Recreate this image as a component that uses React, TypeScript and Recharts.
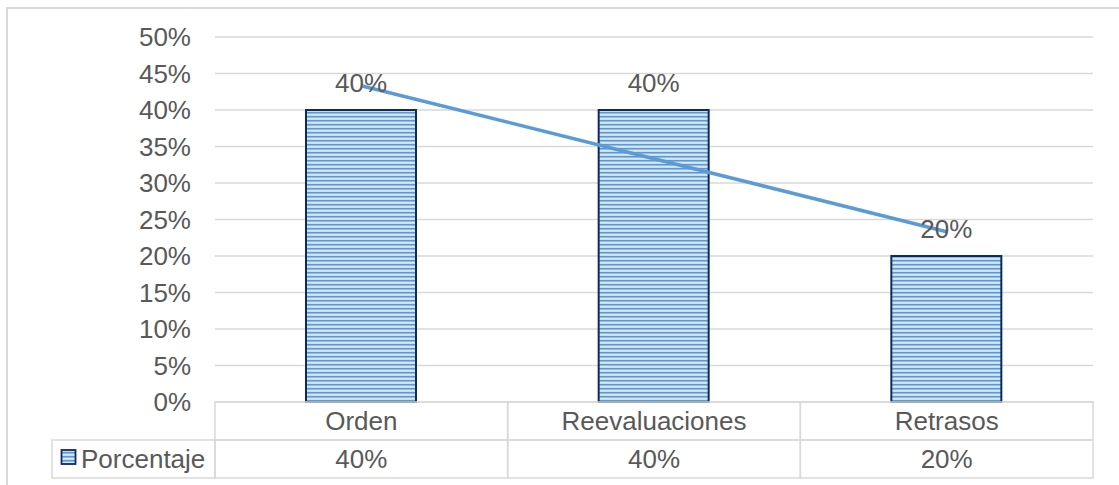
import React from 'react';
import { ComposedChart, Bar, Line, XAxis, YAxis, CartesianGrid, LabelList } from 'recharts';

const categories = ['Orden', 'Reevaluaciones', 'Retrasos'];
const porcentaje = [40, 40, 20];
const trendValues = [43.33, 33.33, 23.33];
const yTicks = [0, 5, 10, 15, 20, 25, 30, 35, 40, 45, 50];
const seriesName = 'Porcentaje';

const data = categories.map((name, i) => ({ name, value: porcentaje[i], trend: trendValues[i] }));

const CHART_W = 1119;
const CHART_H = 485;
const MARGIN = { top: 37, right: 26, left: 0, bottom: 7 };
const YAXIS_W = 215;
const XAXIS_H = 76;
const PLOT_W = CHART_W - MARGIN.left - MARGIN.right - YAXIS_W;
const FONT = '"Liberation Sans", Arial, sans-serif';
const TEXT = '#595959';
const GRID = '#D9D9D9';
const LEGEND_CELL_W = 163;
const FS = 26;

const StripeDefs = () => (
  <defs>
    <pattern id="hstripes" patternUnits="userSpaceOnUse" width="8" height="4">
      <rect x="0" y="0" width="8" height="4" fill="#BFD8F0" />
      <rect x="0" y="0" width="8" height="1.5" fill="#5B9BD5" />
      <rect x="0" y="2.3" width="8" height="0.9" fill="#E4EFFA" />
    </pattern>
  </defs>
);

const BarShape = (props: any) => {
  const { x, y, width, height } = props;
  return (
    <g>
      <StripeDefs />
      <rect x={x} y={y} width={width} height={height} fill="url(#hstripes)" stroke="#0F2A5E" strokeWidth={2} />
    </g>
  );
};

const TableTick = (props: any) => {
  const { x, y, payload, index } = props;
  const cw = PLOT_W / categories.length;
  const rowH = 38;
  const left = x - cw / 2;
  const value = porcentaje[index];
  return (
    <g>
      <rect x={left} y={y} width={cw} height={rowH} fill="none" stroke={GRID} strokeWidth={1.5} />
      <rect x={left} y={y + rowH} width={cw} height={rowH} fill="none" stroke={GRID} strokeWidth={1.5} />
      <text x={x} y={y + rowH / 2} dy="0.36em" textAnchor="middle" fill={TEXT} fontSize={FS} fontFamily={FONT}>
        {payload.value}
      </text>
      <text x={x} y={y + rowH * 1.5} dy="0.36em" textAnchor="middle" fill={TEXT} fontSize={FS} fontFamily={FONT}>
        {`${value}%`}
      </text>
      {index === 0 && (
        <g>
          <rect x={left - LEGEND_CELL_W} y={y + rowH} width={LEGEND_CELL_W} height={rowH} fill="none" stroke={GRID} strokeWidth={1.5} />
          <rect x={left - LEGEND_CELL_W + 9.5} y={y + rowH + 10} width={14} height={14} fill="url(#hstripes)" stroke="#0F2A5E" strokeWidth={1.8} />
          <text x={left - LEGEND_CELL_W + 29} y={y + rowH * 1.5} dy="0.36em" textAnchor="start" fill={TEXT} fontSize={FS} fontFamily={FONT}>
            {seriesName}
          </text>
        </g>
      )}
    </g>
  );
};

export default function App() {
  return (
    <div style={{ position: 'absolute', left: 0, top: 0, width: CHART_W, height: CHART_H, background: '#fff' }}>
      <div style={{ position: 'absolute', left: 6, top: 7, width: CHART_W, height: CHART_H, borderLeft: `2px solid ${GRID}`, borderTop: `2px solid ${GRID}`, boxSizing: 'border-box' }} />
      <div style={{ position: 'absolute', left: 0, top: 0 }}>
        <ComposedChart width={CHART_W} height={CHART_H} data={data} margin={MARGIN}>
          <CartesianGrid vertical={false} stroke={GRID} strokeWidth={1.5} />
          <YAxis
            width={YAXIS_W}
            domain={[0, 50]}
            ticks={yTicks}
            interval={0}
            tickFormatter={(v: number) => `${v}%`}
            axisLine={false}
            tickLine={false}
            tickSize={0}
            tickMargin={24}
            tick={{ fill: TEXT, fontSize: FS, fontFamily: FONT }}
          />
          <XAxis
            dataKey="name"
            height={XAXIS_H}
            axisLine={false}
            tickLine={false}
            tickSize={0}
            tickMargin={0}
            interval={0}
            tick={<TableTick />}
          />
          <Bar dataKey="value" barSize={110} shape={<BarShape />} isAnimationActive={false}>
            <LabelList
              dataKey="value"
              position="top"
              offset={18}
              formatter={(v: any) => `${v}%`}
              fill={TEXT}
              fontSize={FS}
              fontFamily={FONT}
            />
          </Bar>
          <Line dataKey="trend" type="linear" stroke="#5B9BD5" strokeWidth={3.5} dot={false} activeDot={false} isAnimationActive={false} />
        </ComposedChart>
      </div>
    </div>
  );
}
